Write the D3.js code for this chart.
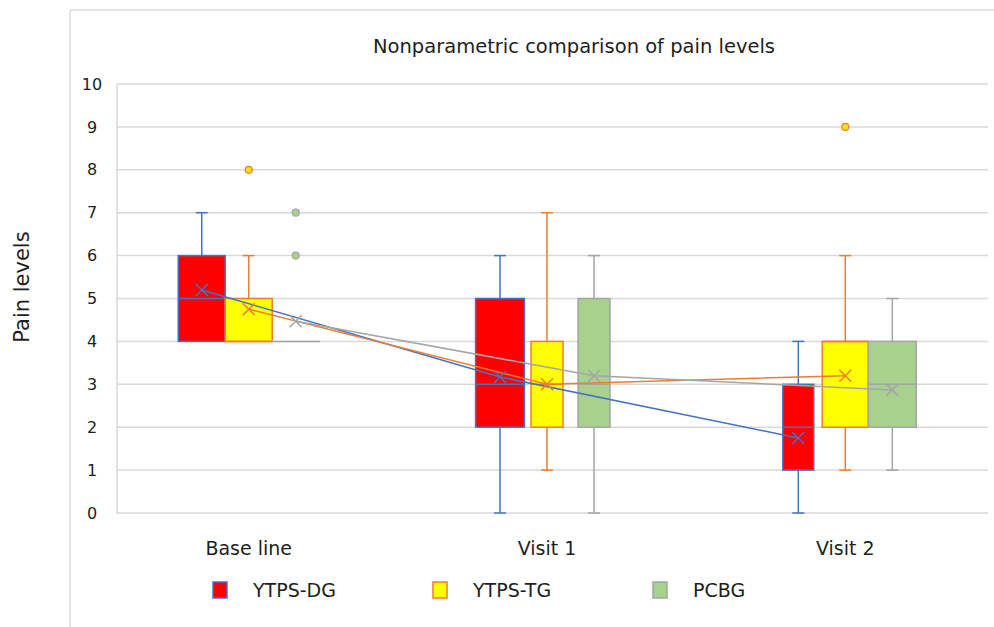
<!DOCTYPE html>
<html>
<head>
<meta charset="utf-8">
<script src="https://cdn.jsdelivr.net/npm/d3@7"></script>
<style>
  body { margin: 0; background: #fff; }
  text { font-family: "DejaVu Sans", sans-serif; fill: #1e1e1e; }
</style>
</head>
<body>
<svg id="chart" width="994" height="627"></svg>
<script>
// categories along x, series = the three groups
const categories = ["Base line", "Visit 1", "Visit 2"];
const series = ["YTPS-DG", "YTPS-TG", "PCBG"];
const yTicks = [0, 1, 2, 3, 4, 5, 6, 7, 8, 9, 10];

// one row per series, one column per category
const whiskerLow  = [[4, 0, 0], [4, 1, 1], [4, 0, 1]];
const quart1      = [[4, 2, 1], [4, 2, 2], [4, 2, 2]];
const medians     = [[5, 3, 2], [4, 3, 4], [4, 3, 3]];
const quart3      = [[6, 5, 3], [5, 4, 4], [4, 5, 4]];
const whiskerHigh = [[7, 6, 4], [6, 7, 6], [4, 6, 5]];
const means       = [[5.2, 3.17, 1.75], [4.75, 3.0, 3.2], [4.47, 3.2, 2.87]];
const outliers    = [[[], [], []], [[8], [], [9]], [[6, 7], [], []]];

// styling
const fills   = ["#FF0000", "#FFFF00", "#A9D18E"];
const strokes = ["#4472C4", "#ED7D31", "#A5A5A5"];
const dotFill = ["#FF0000", "#FFE000", "#A9D18E"];
// the boxes in the source picture are not all drawn at the same width
const widthFrac = [[1, 1.04, 0.66], [1, 0.68, 0.98], [1.04, 0.68, 1.02]];

var svg = d3.select("#chart");

// outer chart frame
svg.append("line").attr("x1", 70).attr("x2", 70).attr("y1", 10).attr("y2", 627)
    .attr("stroke", "#d9d9d9").attr("stroke-width", 1.5);
svg.append("line").attr("x1", 70).attr("x2", 994).attr("y1", 10).attr("y2", 10)
    .attr("stroke", "#d9d9d9").attr("stroke-width", 1.5);

var left = 117, right = 988;

var y = d3.scaleLinear().domain([0, 10]).range([513, 84]);

var x0 = d3.scalePoint().domain(categories).range([left, right]).padding(0.46).align(0.48);
var x1 = d3.scaleBand().domain(series).range([-70.5, 70.5]);
var bw = x1.bandwidth();

// gridlines
svg.append("g").selectAll("line")
  .data(yTicks).enter().append("line")
    .attr("x1", left).attr("x2", right)
    .attr("y1", d => y(d)).attr("y2", d => y(d))
    .attr("stroke", "#d9d9d9").attr("stroke-width", 1.5);
svg.append("line").attr("x1", left).attr("x2", left).attr("y1", y(10)).attr("y2", y(0))
    .attr("stroke", "#d9d9d9").attr("stroke-width", 1.5);

// y tick labels
svg.append("g").selectAll("text")
  .data(yTicks).enter().append("text")
    .attr("x", 92).attr("y", d => y(d))
    .attr("dy", "0.35em")
    .attr("text-anchor", "middle")
    .attr("font-size", 16)
    .text(d => d);

// title and axis title
svg.append("text").attr("x", 574).attr("y", 53)
    .attr("text-anchor", "middle").attr("font-size", 19.5)
    .text("Nonparametric comparison of pain levels");

svg.append("text")
    .attr("transform", "translate(29,287) rotate(-90)")
    .attr("text-anchor", "middle").attr("font-size", 21)
    .text("Pain levels");

// category labels
svg.append("g").selectAll("text")
  .data(categories).enter().append("text")
    .attr("x", d => x0(d)).attr("y", 555)
    .attr("text-anchor", "middle").attr("font-size", 19)
    .text(d => d);

// build flat list of boxes
var boxes = [];
series.forEach(function(s, si) {
  categories.forEach(function(c, ci) {
    boxes.push({
      si: si, cx: x0(c) + x1(s) + bw / 2, w: bw * widthFrac[si][ci],
      lo: whiskerLow[si][ci], q1: quart1[si][ci], med: medians[si][ci],
      q3: quart3[si][ci], hi: whiskerHigh[si][ci], mean: means[si][ci],
      out: outliers[si][ci]
    });
  });
});

var cap = 6;
var bg = svg.append("g");

boxes.forEach(function(b) {
  var g = bg.append("g");
  var col = strokes[b.si];
  // whiskers
  if (b.hi > b.q3) {
    g.append("line").attr("x1", b.cx).attr("x2", b.cx).attr("y1", y(b.q3)).attr("y2", y(b.hi))
      .attr("stroke", col).attr("stroke-width", 1.5);
    g.append("line").attr("x1", b.cx - cap).attr("x2", b.cx + cap).attr("y1", y(b.hi)).attr("y2", y(b.hi))
      .attr("stroke", col).attr("stroke-width", 1.5);
  }
  if (b.lo < b.q1) {
    g.append("line").attr("x1", b.cx).attr("x2", b.cx).attr("y1", y(b.q1)).attr("y2", y(b.lo))
      .attr("stroke", col).attr("stroke-width", 1.5);
    g.append("line").attr("x1", b.cx - cap).attr("x2", b.cx + cap).attr("y1", y(b.lo)).attr("y2", y(b.lo))
      .attr("stroke", col).attr("stroke-width", 1.5);
  }
  // box
  g.append("rect")
    .attr("x", b.cx - b.w / 2).attr("width", b.w)
    .attr("y", y(b.q3)).attr("height", y(b.q1) - y(b.q3))
    .attr("fill", fills[b.si]).attr("stroke", col).attr("stroke-width", 1.5);
  // median
  g.append("line").attr("x1", b.cx - b.w / 2).attr("x2", b.cx + b.w / 2)
    .attr("y1", y(b.med)).attr("y2", y(b.med))
    .attr("stroke", col).attr("stroke-width", 1.5);
  // outliers
  g.selectAll("circle").data(b.out).enter().append("circle")
    .attr("cx", b.cx).attr("cy", d => y(d)).attr("r", 3.5)
    .attr("fill", dotFill[b.si]).attr("stroke", col).attr("stroke-width", 1.2);
});

// mean lines
var line = d3.line().x(d => d[0]).y(d => y(d[1]));
series.forEach(function(s, si) {
  var pts = categories.map((c, ci) => [x0(c) + x1(s) + bw / 2, means[si][ci]]);
  svg.append("path").datum(pts)
    .attr("d", line).attr("fill", "none")
    .attr("stroke", strokes[si]).attr("stroke-width", 1.5);
});

// mean markers
var m = 6;
boxes.forEach(function(b) {
  var cy = y(b.mean);
  svg.append("path")
    .attr("d", `M${b.cx - m},${cy - m}L${b.cx + m},${cy + m}M${b.cx - m},${cy + m}L${b.cx + m},${cy - m}`)
    .attr("stroke", strokes[b.si]).attr("stroke-width", 1.5).attr("fill", "none");
});

// legend
var leg = svg.append("g").selectAll("g")
  .data(series).enter().append("g")
    .attr("transform", (d, i) => "translate(" + (213 + i * 220) + ",582)");
leg.append("rect").attr("width", 14).attr("height", 16)
    .attr("fill", (d, i) => fills[i]).attr("stroke", (d, i) => strokes[i]).attr("stroke-width", 1.5);
leg.append("text").attr("x", 40).attr("y", 8).attr("dy", "0.35em")
    .attr("font-size", 19).text(d => d);
</script>
</body>
</html>
